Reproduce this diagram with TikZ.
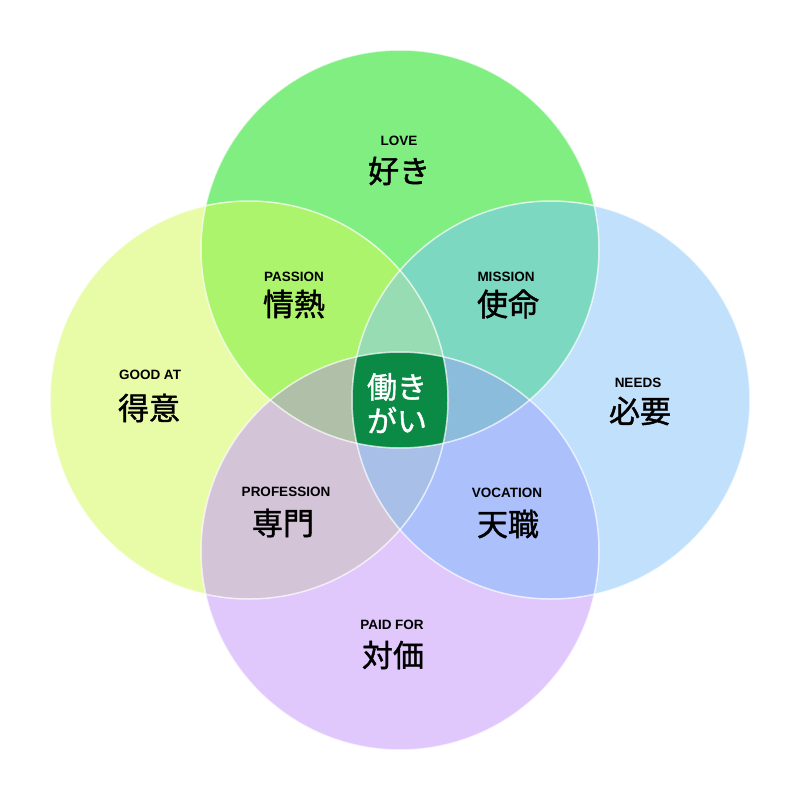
\documentclass[tikz,border=0pt]{standalone}
\usepackage{fontspec}
\newfontfamily\jpfont{Noto Sans CJK JP}[FakeBold=1.3]
\newfontfamily\labfont{Liberation Sans}
\definecolor{cT}{HTML}{80EE80}
\definecolor{cL}{HTML}{E8FCA8}
\definecolor{cR}{HTML}{C0E0FC}
\definecolor{cB}{HTML}{E0C8FC}
\definecolor{cTL}{HTML}{ACF46C}
\definecolor{cTR}{HTML}{7CD8C0}
\definecolor{cLB}{HTML}{D4C4D8}
\definecolor{cRB}{HTML}{ACC0FC}
\definecolor{cTLR}{HTML}{98DCB4}
\definecolor{cTLB}{HTML}{B0C0A8}
\definecolor{cTRB}{HTML}{8CBCDC}
\definecolor{cLRB}{HTML}{A8C0E8}
\definecolor{cAll}{HTML}{0A8A45}
\tikzset{
  en/.style={font=\labfont\bfseries\fontsize{13.5}{14}\selectfont, text=black, inner sep=0pt},
  jp/.style={font=\jpfont\fontsize{31}{32}\selectfont, text=black, inner sep=0pt},
  jpw/.style={font=\jpfont\fontsize{30}{31}\selectfont, text=white, inner sep=0pt},
  rim/.style={draw=white, draw opacity=0.7, line width=1.5pt}
}
\begin{document}
\begin{tikzpicture}[x=1pt,y=-1pt]
\useasboundingbox (0,0) rectangle (800,800);
\fill[white] (0,0) rectangle (800,800);
\def\rr{199pt}
\coordinate (cT) at (400,249);
\coordinate (cL) at (249,400);
\coordinate (cR) at (551,400);
\coordinate (cB) at (400,551);
% single circles
\fill[cT] (cT) circle[radius=\rr];
\fill[cL] (cL) circle[radius=\rr];
\fill[cR] (cR) circle[radius=\rr];
\fill[cB] (cB) circle[radius=\rr];
% pairs
\begin{scope}\clip (cT) circle[radius=\rr]; \fill[cTL] (cL) circle[radius=\rr]; \fill[cTR] (cR) circle[radius=\rr];\end{scope}
\begin{scope}\clip (cB) circle[radius=\rr]; \fill[cLB] (cL) circle[radius=\rr]; \fill[cRB] (cR) circle[radius=\rr];\end{scope}
% triples
\begin{scope}\clip (cT) circle[radius=\rr]; \clip (cL) circle[radius=\rr]; \fill[cTLR] (cR) circle[radius=\rr];\end{scope}
\begin{scope}\clip (cT) circle[radius=\rr]; \clip (cL) circle[radius=\rr]; \fill[cTLB] (cB) circle[radius=\rr];\end{scope}
\begin{scope}\clip (cT) circle[radius=\rr]; \clip (cR) circle[radius=\rr]; \fill[cTRB] (cB) circle[radius=\rr];\end{scope}
\begin{scope}\clip (cL) circle[radius=\rr]; \clip (cR) circle[radius=\rr]; \fill[cLRB] (cB) circle[radius=\rr];\end{scope}
% all four
\begin{scope}\clip (cT) circle[radius=\rr]; \clip (cL) circle[radius=\rr]; \clip (cR) circle[radius=\rr]; \fill[cAll] (cB) circle[radius=\rr];\end{scope}
% rims
\draw[rim] (cT) circle[radius=\rr];
\draw[rim] (cL) circle[radius=\rr];
\draw[rim] (cR) circle[radius=\rr];
\draw[rim] (cB) circle[radius=\rr];
% labels
\node[en] (loveE) at (399,141) {LOVE};
\node[jp] (loveJ) at (399,171) {好き};
\node[en] (passE) at (294,277) {PASSION};
\node[jp] (passJ) at (294,304) {情熱};
\node[en] (missE) at (506,277) {MISSION};
\node[jp] (missJ) at (508,304) {使命};
\node[en] (goodE) at (150,375) {GOOD AT};
\node[jp] (goodJ) at (149,408) {得意};
\node[en] (needE) at (638,383) {NEEDS};
\node[jp] (needJ) at (640,411) {必要};
\node[en] (profE) at (286,492) {PROFESSION};
\node[jp] (profJ) at (283,523) {専門};
\node[en] (vocE) at (507,493) {VOCATION};
\node[jp] (vocJ) at (508,524) {天職};
\node[en] (paidE) at (392,625) {PAID FOR};
\node[jp] (paidJ) at (393,655) {対価};
\node[jpw] (ikiA) at (397,387) {働き};
\node[jpw] (ikiB) at (397,420) {がい};
\end{tikzpicture}
\end{document}
